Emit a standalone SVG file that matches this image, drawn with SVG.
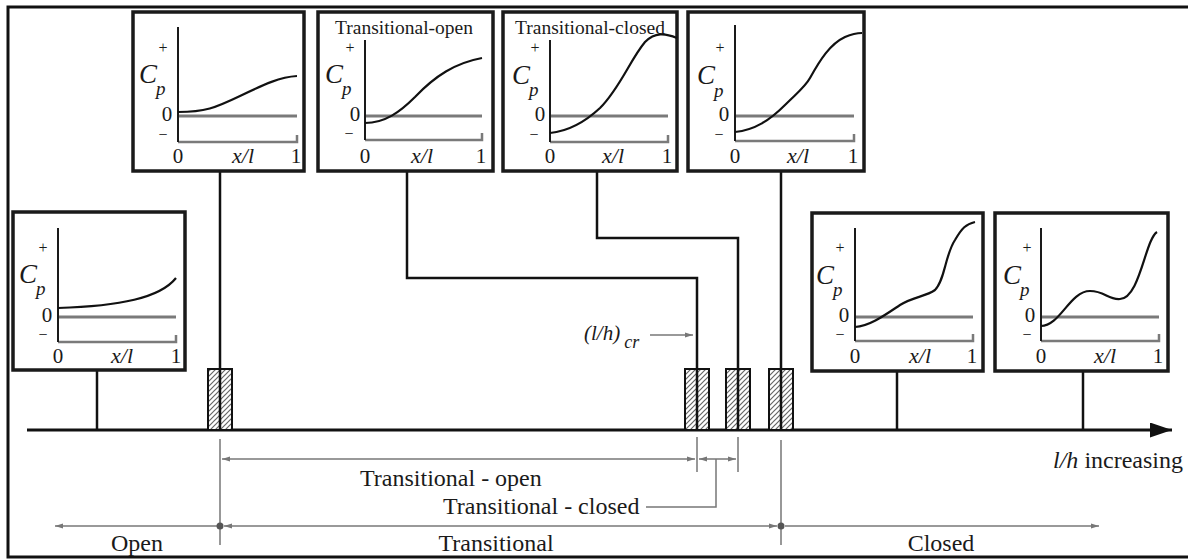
<svg xmlns="http://www.w3.org/2000/svg" width="1188" height="559" viewBox="0 0 1188 559">
<style>
.box{fill:#fff;stroke:#1a1a1a;stroke-width:3.5}
.yax{stroke:#1a1a1a;stroke-width:2;fill:none}
.gl{stroke:#7a7a7a;stroke-width:3;fill:none}
.xax{stroke:#7a7a7a;stroke-width:2.5;fill:none}
.cv{stroke:#111;stroke-width:2.2;fill:none}
.stem{stroke:#111;stroke-width:2.5;fill:none}
.dim{stroke:#777;stroke-width:1.5;fill:none}
.t{font-family:"Liberation Serif","Times New Roman",serif;fill:#1a1a1a}
.n{font-size:21px;text-anchor:middle}
.pm{font-size:16px;text-anchor:middle}
.c{font-size:27px;font-style:italic}
.p{font-size:19px;font-style:italic}
.xl{font-size:22px;font-style:italic;text-anchor:middle}
.ttl{font-size:19.5px;text-anchor:middle}
.lab{font-size:24px}
.hat{fill:url(#hatch);stroke:#111;stroke-width:2}
</style>
<defs>
<pattern id="hatch" patternUnits="userSpaceOnUse" width="5" height="5">
<rect width="5" height="5" fill="#fff"/>
<path d="M-1,6 L6,-1 M-1,1 L1,-1 M4,6 L6,4" stroke="#666" stroke-width="1.2"/>
</pattern>
<marker id="ah" markerUnits="userSpaceOnUse" markerWidth="9" markerHeight="6" refX="8" refY="3" orient="auto-start-reverse">
<path d="M0,0.5 L8,3 L0,5.5 z" fill="#777"/>
</marker>
<marker id="big" markerUnits="userSpaceOnUse" markerWidth="24" markerHeight="16" refX="22" refY="7.5" orient="auto">
<path d="M0,0 L22,7.5 L0,15 z" fill="#111"/>
</marker>
</defs>
<rect width="1188" height="559" fill="#fff"/>
<g id="frame" stroke="#111" stroke-width="3" fill="none">
<path d="M1188,7 H8 V557 H1188"/>
</g>
<g id="connectors">
<line x1="27" y1="430" x2="1172" y2="430" stroke="#111" stroke-width="3" marker-end="url(#big)"/>
<path class="stem" d="M97,370 V430"/>
<path class="stem" d="M220,171 V430"/>
<path class="stem" d="M407,171 V278 H697 V430"/>
<path class="stem" d="M597,171 V238 H738 V430"/>
<path class="stem" d="M781,171 V430"/>
<path class="stem" d="M897,371 V430"/>
<path class="stem" d="M1083,371 V430"/>
<path class="dim" d="M220,439 V545 M697,437 V472 M738,437 V472 M781,440 V545"/>
<line class="dim" x1="222" y1="459" x2="695" y2="459" marker-start="url(#ah)" marker-end="url(#ah)"/>
<line class="dim" x1="699" y1="459" x2="736" y2="459" marker-start="url(#ah)" marker-end="url(#ah)"/>
<path class="dim" d="M646,507 H716 V459"/>
<line class="dim" x1="218" y1="526" x2="55" y2="526" marker-end="url(#ah)"/>
<line class="dim" x1="224" y1="526" x2="777" y2="526" marker-start="url(#ah)" marker-end="url(#ah)"/>
<line class="dim" x1="785" y1="526" x2="1099" y2="526" marker-end="url(#ah)"/>
<circle cx="220" cy="526" r="3.5" fill="#555"/>
<circle cx="781" cy="526" r="3.5" fill="#555"/>
<line class="dim" x1="650" y1="335" x2="693" y2="335" marker-end="url(#ah)"/>
</g>
<g id="hatches">
<rect class="hat" x="208" y="369" width="12" height="61"/><rect class="hat" x="220" y="369" width="12" height="61"/>
<rect class="hat" x="685" y="369" width="12" height="61"/><rect class="hat" x="697" y="369" width="12" height="61"/>
<rect class="hat" x="726" y="369" width="12" height="61"/><rect class="hat" x="738" y="369" width="12" height="61"/>
<rect class="hat" x="769" y="369" width="12" height="61"/><rect class="hat" x="781" y="369" width="12" height="61"/>
<path class="stem" d="M220,369 V430 M697,369 V430 M738,369 V430 M781,369 V430"/>
</g>
<g id="box-open">
<rect class="box" x="13" y="212" width="172" height="158"/>
<path class="gl" d="M58,317 H176"/>
<path class="xax" d="M58,342 H176 V335"/>
<path class="yax" d="M58,228 V342"/>
<path class="cv" d="M58,308 C120,306 160,298 176,278"/>
<text class="t pm" x="43" y="253">+</text>
<text class="t c" x="19" y="283">C</text>
<text class="t p" x="36" y="295">p</text>
<text class="t n" x="47" y="322">0</text>
<text class="t pm" x="43" y="340">−</text>
<text class="t n" x="58" y="363">0</text>
<text class="t xl" x="122" y="363">x/l</text>
<text class="t n" x="176" y="363">1</text>
</g>
<g id="box-t1">
<rect class="box" x="133" y="12" width="171" height="159"/>
<path class="gl" d="M178,116 H297"/>
<path class="xax" d="M178,142 H297 V135"/>
<path class="yax" d="M178,27 V142"/>
<path class="cv" d="M178,112 C205,112 215,108 240,96 C265,84 280,77 297,76"/>
<text class="t pm" x="163" y="53">+</text>
<text class="t c" x="139" y="83">C</text>
<text class="t p" x="156" y="95">p</text>
<text class="t n" x="167" y="121">0</text>
<text class="t pm" x="163" y="140">−</text>
<text class="t n" x="178" y="163">0</text>
<text class="t xl" x="243" y="163">x/l</text>
<text class="t n" x="296" y="163">1</text>
</g>
<g id="box-transitional-open">
<rect class="box" x="318" y="12" width="175" height="159"/>
<text class="t ttl" x="404" y="34">Transitional-open</text>
<path class="gl" d="M365,116 H482"/>
<path class="xax" d="M365,140 H482 V133"/>
<path class="yax" d="M365,40 V140"/>
<path class="cv" d="M365,123 C385,123 400,112 415,97 C435,76 455,63 482,58"/>
<text class="t pm" x="350" y="53">+</text>
<text class="t c" x="325" y="83">C</text>
<text class="t p" x="342" y="95">p</text>
<text class="t n" x="355" y="121">0</text>
<text class="t pm" x="349" y="139">−</text>
<text class="t n" x="365" y="163">0</text>
<text class="t xl" x="422" y="163">x/l</text>
<text class="t n" x="481" y="163">1</text>
</g>
<g id="box-transitional-closed">
<rect class="box" x="503" y="12" width="174" height="159"/>
<text class="t ttl" x="590" y="34">Transitional-closed</text>
<path class="gl" d="M550,116 H668"/>
<path class="xax" d="M550,142 H668 V135"/>
<path class="yax" d="M550,40 V142"/>
<path class="cv" d="M550,133 C570,131 585,122 600,108 C620,88 630,60 645,42 C655,32 665,33 677,38"/>
<text class="t pm" x="535" y="53">+</text>
<text class="t c" x="512" y="84">C</text>
<text class="t p" x="529" y="96">p</text>
<text class="t n" x="540" y="121">0</text>
<text class="t pm" x="534" y="140">−</text>
<text class="t n" x="550" y="163">0</text>
<text class="t xl" x="613" y="163">x/l</text>
<text class="t n" x="667" y="163">1</text>
</g>
<g id="box-t4">
<rect class="box" x="688" y="12" width="176" height="159"/>
<path class="gl" d="M735,116 H854"/>
<path class="xax" d="M735,141 H854 V134"/>
<path class="yax" d="M735,25 V141"/>
<path class="cv" d="M735,132 C755,130 770,120 785,105 C798,92 805,87 810,78 C820,60 830,44 845,37 C852,34 856,33 862,33"/>
<text class="t pm" x="720" y="53">+</text>
<text class="t c" x="697" y="84">C</text>
<text class="t p" x="714" y="97">p</text>
<text class="t n" x="724" y="121">0</text>
<text class="t pm" x="719" y="140">−</text>
<text class="t n" x="735" y="163">0</text>
<text class="t xl" x="798" y="163">x/l</text>
<text class="t n" x="853" y="163">1</text>
</g>
<g id="box-closed-1">
<rect class="box" x="812" y="213" width="171" height="158"/>
<path class="gl" d="M855,317 H973"/>
<path class="xax" d="M855,341 H973 V334"/>
<path class="yax" d="M855,228 V341"/>
<path class="cv" d="M855,327 C870,326 885,315 900,305 C915,296 925,297 935,290 C945,280 945,255 955,240 C962,228 966,224 975,222"/>
<text class="t pm" x="840" y="253">+</text>
<text class="t c" x="816" y="284">C</text>
<text class="t p" x="833" y="296">p</text>
<text class="t n" x="844" y="322">0</text>
<text class="t pm" x="840" y="340">−</text>
<text class="t n" x="855" y="363">0</text>
<text class="t xl" x="920" y="363">x/l</text>
<text class="t n" x="972" y="363">1</text>
</g>
<g id="box-closed-2">
<rect class="box" x="995" y="213" width="173" height="158"/>
<path class="gl" d="M1041,317 H1159"/>
<path class="xax" d="M1041,341 H1159 V334"/>
<path class="yax" d="M1041,228 V341"/>
<path class="cv" d="M1041,326 C1060,326 1070,291 1090,291 C1105,291 1108,300 1120,299 C1140,298 1145,240 1157,232"/>
<text class="t pm" x="1027" y="253">+</text>
<text class="t c" x="1003" y="284">C</text>
<text class="t p" x="1020" y="296">p</text>
<text class="t n" x="1030" y="322">0</text>
<text class="t pm" x="1027" y="340">−</text>
<text class="t n" x="1041" y="363">0</text>
<text class="t xl" x="1105" y="363">x/l</text>
<text class="t n" x="1158" y="363">1</text>
</g>
<g id="labels">
<text class="t" x="584" y="340" font-size="21"><tspan font-style="italic">(l/h)</tspan><tspan font-style="italic" font-size="18" dy="8" dx="4">cr</tspan></text>
<text class="t lab" x="360" y="486">Transitional - open</text>
<text class="t lab" x="443" y="514">Transitional - closed</text>
<text class="t lab" x="1183" y="468" text-anchor="end"><tspan font-style="italic">l/h</tspan> increasing</text>
<text class="t lab" x="137" y="551" text-anchor="middle">Open</text>
<text class="t lab" x="496" y="551" text-anchor="middle">Transitional</text>
<text class="t lab" x="941" y="551" text-anchor="middle">Closed</text>
</g>
</svg>
